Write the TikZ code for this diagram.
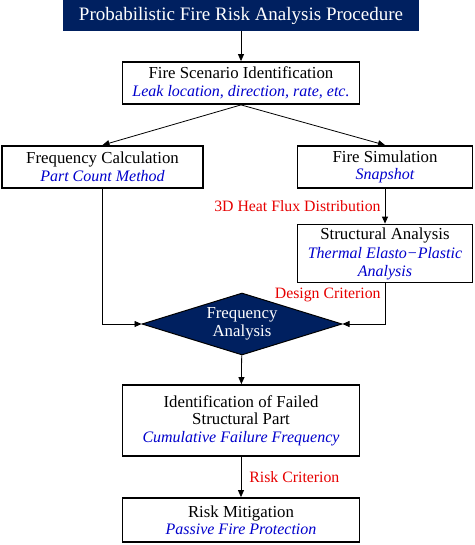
\documentclass[tikz,border=0pt]{standalone}
\usepackage{fontspec}
\setmainfont{Liberation Serif}
\usetikzlibrary{arrows.meta,shapes.geometric,positioning}
\definecolor{fsnavy}{RGB}{0,32,96}
\definecolor{fsblue}{RGB}{0,0,204}
\definecolor{fsred}{RGB}{230,0,0}
\tikzstyle{arrow} = [line width=0.8pt,-{Triangle[length=7pt,width=6pt]}]
\tikzstyle{stage} = [rectangle, draw=black, line width=1.8pt, fill=white, inner sep=0pt, text centered, align=center, font=\fontsize{16.8}{17.5}\selectfont]
\tikzstyle{note} = [text=fsred, font=\fontsize{15.8}{17}\selectfont, inner sep=0pt]
\newcommand{\sub}[1]{\textcolor{fsblue}{\fontsize{16}{17.5}\selectfont\itshape #1}}

\begin{document}
\begin{tikzpicture}[x=1pt,y=-1pt]
\useasboundingbox (0,0) rectangle (474,545);
\node (title) [rectangle, fill=fsnavy, text=white, minimum width=356pt, minimum height=31pt, inner sep=0pt, font=\fontsize{19}{20}\selectfont] at (241,15.5) {Probabilistic Fire Risk Analysis Procedure};
\node (scen) [stage, minimum width=237pt, minimum height=42pt] at (241,83) {Fire Scenario Identification\\\sub{Leak location, direction, rate, etc.}};
\node (freq) [stage, minimum width=201pt, minimum height=42pt] at (102.5,167) {Frequency Calculation\\\sub{Part Count Method}};
\node (sim) [stage, minimum width=175pt, minimum height=42pt] at (385,167) {Fire Simulation\\\sub{Snapshot}};
\node (struct) [stage, minimum width=175pt, minimum height=58pt] at (385,253.5) {Structural Analysis\\[2pt]\sub{Thermal Elasto−Plastic}\\\sub{Analysis}};
\node (fa) [diamond, draw=black, line width=1pt, fill=fsnavy, text=white, aspect=3.2, minimum width=200pt, minimum height=62pt, inner sep=0pt, align=center, font=\fontsize{16.8}{18}\selectfont] at (242,324) {Frequency\\Analysis};
\node (ident) [stage, minimum width=237pt, minimum height=71pt] at (241,420.5) {Identification of Failed\\Structural Part\\\sub{Cumulative Failure Frequency}};
\node (risk) [stage, minimum width=237pt, minimum height=44pt] at (241,520) {Risk Mitigation\\\sub{Passive Fire Protection}};

\draw[arrow] (title) -- (scen);
\draw[arrow] (scen.south) -- (freq.north);
\draw[arrow] (scen.south) -- (sim.north);
\draw[arrow] (sim) -- node[note, left=4pt] {3D Heat Flux Distribution} (struct);
\draw[arrow] (freq.south) |- (fa.west);
\draw[arrow] (struct.south) |- node[note, pos=0.14, left=4pt] {Design Criterion} (fa.east);
\draw[arrow] (fa) -- (ident);
\draw[arrow] (ident) -- node[note, right=8pt] {Risk Criterion} (risk);
\end{tikzpicture}
\end{document}
